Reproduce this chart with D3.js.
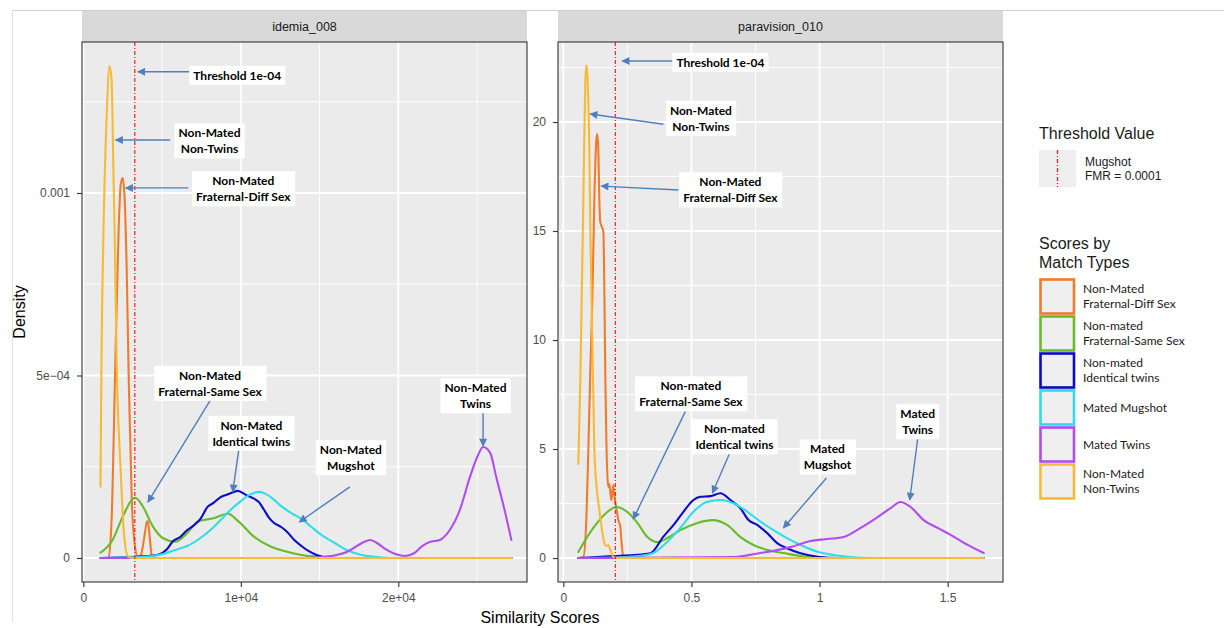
<!DOCTYPE html>
<html><head><meta charset="utf-8">
<script src="https://cdn.jsdelivr.net/npm/d3@7"></script>
<style>body{margin:0;background:#fff;} svg{display:block;}</style>
</head><body>
<svg id="chart" width="1224" height="628"></svg>
<script>
// ---------------- DATA ----------------
const panelTitles = ["idemia_008", "paravision_010"];
const seriesNames = [
  ["Non-Mated", "Fraternal-Diff Sex"],
  ["Non-mated", "Fraternal-Same Sex"],
  ["Non-mated", "Identical twins"],
  ["Mated Mugshot"],
  ["Mated Twins"],
  ["Non-Mated", "Non-Twins"]
];

// idemia_008 density curves: [score, density]
const idemiaFraternalDiffSex = [[1090,0],[1600,0],[1795,0.000104],[2051,0.00057],[2244,0.000899],[2372,0.001022],[2500,0.001041],[2628,0.000981],[2756,0.000789],[2885,0.000488],[3077,0.000159],[3269,0.0000356],[3461,0.0000027],[3654,0.0000082],[3846,0.0000493],[4038,0.0000986],[4102,0.000101],[4231,0.0000493],[4359,0.0000027],[4615,0],[27180,0]];
const idemiaFraternalSameSex = [[1090,0.0000145],[1859,0.0000493],[2500,0.000113],[3141,0.000162],[3300,0.000165],[3782,0.000141],[4423,0.0000858],[5064,0.000054],[5833,0.0000447],[6602,0.0000685],[7243,0.0000995],[8269,0.000109],[9166,0.000121],[9871,0.0000995],[10833,0.0000584],[11923,0.000031],[12756,0.0000192],[13846,0.0000082],[15128,0.0000027],[16410,0],[27180,0]];
const idemiaIdenticalTwins = [[1090,0],[2949,0.0000027],[4679,0.0000082],[5320,0.0000247],[5705,0.0000466],[6154,0.0000575],[6602,0.0000767],[7051,0.0000904],[7436,0.000107],[7884,0.00014],[8269,0.000151],[8718,0.000167],[9230,0.000175],[9807,0.000184],[10320,0.000173],[10769,0.000164],[11153,0.000153],[11474,0.000132],[11794,0.00011],[12115,0.0000959],[12564,0.0000849],[12948,0.0000712],[13397,0.0000493],[13846,0.0000329],[14294,0.0000192],[14807,0.0000082],[15256,0.0000027],[15769,0],[27180,0]];
const idemiaMatedMugshot = [[1090,0],[3590,0.0000027],[5064,0.000011],[5833,0.0000219],[6602,0.0000329],[7436,0.0000548],[8077,0.0000767],[8718,0.000104],[9359,0.000132],[10000,0.000156],[10641,0.000175],[11153,0.000181],[11602,0.000175],[12051,0.000162],[12564,0.000142],[13205,0.000123],[13846,0.000107],[14487,0.0000849],[15128,0.000063],[15961,0.0000411],[16730,0.0000219],[17692,0.0000082],[18653,0.0000027],[19615,0],[27180,0]];
const idemiaMatedTwins = [[1090,0],[13846,0],[15128,0.0000027],[16089,0.0000082],[16730,0.0000164],[17371,0.0000329],[17820,0.0000438],[18204,0.0000493],[18653,0.0000411],[19166,0.0000247],[19807,0.000011],[20448,0.0000055],[21025,0.0000137],[21538,0.0000329],[21986,0.0000438],[22627,0.0000493],[23268,0.0000767],[23909,0.000132],[24550,0.000222],[25063,0.000282],[25384,0.000304],[25832,0.000288],[26217,0.000222],[26794,0.000123],[27180,0.0000493]];
const idemiaNonTwins = [[1090,0.000195],[1154,0.000542],[1282,0.000899],[1474,0.0012],[1667,0.001348],[1795,0.00131],[1923,0.001036],[1987,0.000899],[2115,0.000542],[2372,0.000241],[2564,0.0000767],[2820,0.0000055],[3077,0],[27180,0]];

// paravision_010 density curves: [score, density]
const paraFraternalDiffSex = [[0.0586,0],[0.0781,0.05],[0.0898,1.74],[0.0977,4.95],[0.1055,8.62],[0.1133,11.83],[0.1211,16.42],[0.1289,19.17],[0.1328,19.45],[0.1367,18.72],[0.1406,16.42],[0.1445,15.41],[0.1523,15.14],[0.1563,14.95],[0.1602,12.29],[0.1641,8.17],[0.168,5.41],[0.1719,3.81],[0.1758,3.26],[0.1797,3.39],[0.1836,3.03],[0.1875,2.66],[0.1914,3.03],[0.1953,3.35],[0.1992,2.89],[0.207,2.29],[0.2148,1.74],[0.2227,1.42],[0.2266,0.83],[0.2344,0.05],[0.2461,0],[1.6406,0]];
const paraFraternalSameSex = [[0.0586,0.28],[0.1172,1.38],[0.1719,2.11],[0.2070,2.34],[0.25,2.11],[0.2891,1.61],[0.3281,0.96],[0.3672,0.73],[0.4063,0.92],[0.457,1.28],[0.5234,1.61],[0.582,1.74],[0.6406,1.51],[0.6914,0.96],[0.7422,0.6],[0.7969,0.37],[0.8594,0.23],[0.9258,0.09],[1.0039,0],[1.6406,0]];
const paraIdenticalTwins = [[0.0586,0],[0.1953,0.09],[0.2734,0.14],[0.3398,0.22],[0.3906,0.98],[0.4297,1.51],[0.4688,2.12],[0.5078,2.66],[0.5352,2.81],[0.5742,2.84],[0.6133,2.97],[0.6523,2.66],[0.6914,2.28],[0.7227,1.74],[0.7578,1.51],[0.7969,1.13],[0.8359,0.67],[0.875,0.44],[0.9258,0.22],[0.9922,0.06],[1.082,0],[1.6406,0]];
const paraMatedMugshot = [[0.0586,0],[0.2,0.02],[0.3008,0.1],[0.3516,0.23],[0.4063,0.75],[0.457,1.38],[0.5078,2.12],[0.5625,2.58],[0.6133,2.66],[0.6641,2.51],[0.7188,2.12],[0.7695,1.67],[0.8203,1.28],[0.875,0.9],[0.9258,0.6],[0.9922,0.29],[1.0547,0.14],[1.1211,0.05],[1.2,0],[1.6406,0]];
const paraMatedTwins = [[0.0586,0],[0.6641,0.05],[0.7695,0.23],[0.8867,0.5],[0.9648,0.78],[1.0313,0.87],[1.0938,0.96],[1.1602,1.38],[1.2266,1.88],[1.2773,2.29],[1.3164,2.57],[1.3555,2.34],[1.4063,1.74],[1.4609,1.38],[1.5117,1.06],[1.5781,0.6],[1.6406,0.23]];
const paraNonTwins = [[0.0586,4.31],[0.0664,8.17],[0.0781,16.4],[0.0859,21.9],[0.0898,22.6],[0.0938,22.2],[0.1016,18.7],[0.1055,15.0],[0.1133,10.0],[0.1211,5.0],[0.1289,3.4],[0.1406,2.2],[0.1523,1.19],[0.1602,0.69],[0.168,0.55],[0.1758,0.6],[0.1836,0.37],[0.1953,0.05],[0.207,0],[1.6406,0]];

// thresholds (FMR = 0.0001)
const thresholds = [3270, 0.203];

// axis ticks
const idemiaXTicks = [0, 10000, 20000];
const idemiaXLabels = ["0", "1e+04", "2e+04"];
const idemiaXMinor = [5000, 15000, 25000];
const idemiaYTicks = [0, 0.0005, 0.001];
const idemiaYLabels = ["0", "5e\u221204", "0.001"];
const idemiaYMinor = [0.00025, 0.00075, 0.00125];
const paraXTicks = [0, 0.5, 1, 1.5];
const paraXLabels = ["0", "0.5", "1", "1.5"];
const paraXMinor = [0.25, 0.75, 1.25];
const paraYTicks = [0, 5, 10, 15, 20];
const paraYLabels = ["0", "5", "10", "15", "20"];
const paraYMinor = [2.5, 7.5, 12.5, 17.5, 22.5];

// annotations: label lines, box centre, arrow start, arrow tip (data coords)
const idemiaNotes = [
  {lines:["Threshold 1e-04"], c:[9775,0.001322], from:[6730,0.001332], to:[3460,0.001332]},
  {lines:["Non-Mated","Non-Twins"], c:[8013,0.001142], from:[5513,0.001145], to:[2051,0.001145]},
  {lines:["Non-Mated","Fraternal-Diff Sex"], c:[10160,0.001011], from:[6666,0.001014], to:[2692,0.001014]},
  {lines:["Non-Mated","Fraternal-Same Sex"], c:[8045,0.000478], from:[8077,0.000433], to:[4102,0.000153]},
  {lines:["Non-Mated","Identical twins"], c:[10673,0.000341], from:[9871,0.000296], to:[9487,0.000181]},
  {lines:["Non-Mated","Mugshot"], c:[16987,0.000274], from:[16922,0.000195], to:[13717,0.0000986]},
  {lines:["Non-Mated","Twins"], c:[24903,0.000444], from:[25384,0.0004], to:[25384,0.000307]}
];
const paraNotes = [
  {lines:["Threshold 1e-04"], c:[0.613,22.73], from:[0.426,22.8], to:[0.230,22.8]},
  {lines:["Non-Mated","Non-Twins"], c:[0.537,20.16], from:[0.391,19.9], to:[0.105,20.37]},
  {lines:["Non-Mated","Fraternal-Diff Sex"], c:[0.652,16.88], from:[0.449,16.88], to:[0.148,17.06]},
  {lines:["Non-mated","Fraternal-Same Sex"], c:[0.498,7.52], from:[0.477,6.74], to:[0.273,1.79]},
  {lines:["Non-mated","Identical twins"], c:[0.668,5.55], from:[0.648,4.77], to:[0.582,2.98]},
  {lines:["Mated","Mugshot"], c:[1.031,4.63], from:[1.027,3.67], to:[0.859,1.38]},
  {lines:["Mated","Twins"], c:[1.383,6.24], from:[1.383,5.46], to:[1.352,2.66]}
];

// ---------------- STYLE ----------------
const colors = ["#F07B2C", "#67BC28", "#0B0BCB", "#2EDDE9", "#B14CEE", "#F8BA34"];
const thresholdColor = "#E8202A";
const arrowColor = "#4F7FBF";
const annoFont = "Lato, 'Open Sans', sans-serif";
const mainFont = "'Liberation Sans', Arial, sans-serif";

const svg = d3.select("#chart");

// page frame
svg.append("line").attr("x1",12).attr("x2",1224).attr("y1",10.5).attr("y2",10.5).attr("stroke","#cfcfcf");
svg.append("line").attr("x1",12.5).attr("x2",12.5).attr("y1",10).attr("y2",622).attr("stroke","#e2e2e2");

const defs = svg.append("defs");
defs.append("marker").attr("id","ah").attr("viewBox","0 0 10 10").attr("refX",9).attr("refY",5)
  .attr("markerWidth",10).attr("markerHeight",8).attr("markerUnits","userSpaceOnUse").attr("orient","auto")
  .append("path").attr("d","M0,0L10,5L0,10z").attr("fill",arrowColor);

const panelDefs = [
  {title: panelTitles[0], x0:82, x1:527, xDom:[-83, 28171], yDom:[-0.0000658, 0.0014137],
   series:[idemiaFraternalDiffSex, idemiaFraternalSameSex, idemiaIdenticalTwins, idemiaMatedMugshot, idemiaMatedTwins, idemiaNonTwins],
   thr: thresholds[0], xt: idemiaXTicks, xl: idemiaXLabels, xm: idemiaXMinor, yt: idemiaYTicks, yl: idemiaYLabels, ym: idemiaYMinor, notes: idemiaNotes},
  {title: panelTitles[1], x0:558, x1:1003, xDom:[-0.0207, 1.716], yDom:[-1.10, 23.67],
   series:[paraFraternalDiffSex, paraFraternalSameSex, paraIdenticalTwins, paraMatedMugshot, paraMatedTwins, paraNonTwins],
   thr: thresholds[1], xt: paraXTicks, xl: paraXLabels, xm: paraXMinor, yt: paraYTicks, yl: paraYLabels, ym: paraYMinor, notes: paraNotes}
];
const pTop = 42, pBottom = 582;

panelDefs.forEach((p, pi) => {
  const x = d3.scaleLinear().domain(p.xDom).range([p.x0, p.x1]);
  const y = d3.scaleLinear().domain(p.yDom).range([pBottom, pTop]);
  const g = svg.append("g");
  // strip
  g.append("rect").attr("x",p.x0).attr("y",11).attr("width",p.x1-p.x0).attr("height",pTop-11).attr("fill","#D9D9D9");
  g.append("text").attr("x",(p.x0+p.x1)/2).attr("y",31).attr("text-anchor","middle")
    .attr("font-family",mainFont).attr("font-size",12.5).attr("fill","#1A1A1A").text(p.title);
  // panel bg
  g.append("rect").attr("x",p.x0).attr("y",pTop).attr("width",p.x1-p.x0).attr("height",pBottom-pTop).attr("fill","#EBEBEB");
  // grid
  g.selectAll(".vmin").data(p.xm).join("line").attr("x1",d=>x(d)).attr("x2",d=>x(d)).attr("y1",pTop).attr("y2",pBottom).attr("stroke","#fff").attr("stroke-width",0.9);
  g.selectAll(".hmin").data(p.ym).join("line").attr("y1",d=>y(d)).attr("y2",d=>y(d)).attr("x1",p.x0).attr("x2",p.x1).attr("stroke","#fff").attr("stroke-width",0.9);
  g.selectAll(".vmaj").data(p.xt).join("line").attr("x1",d=>x(d)).attr("x2",d=>x(d)).attr("y1",pTop).attr("y2",pBottom).attr("stroke","#fff").attr("stroke-width",1.8);
  g.selectAll(".hmaj").data(p.yt).join("line").attr("y1",d=>y(d)).attr("y2",d=>y(d)).attr("x1",p.x0).attr("x2",p.x1).attr("stroke","#fff").attr("stroke-width",1.8);

  // clip
  const cid = "clip"+pi;
  defs.append("clipPath").attr("id",cid).append("rect").attr("x",p.x0).attr("y",pTop).attr("width",p.x1-p.x0).attr("height",pBottom-pTop);
  const plot = g.append("g").attr("clip-path",`url(#${cid})`);
  const line = d3.line().x(d=>x(d[0])).y(d=>y(d[1])).curve(d3.curveMonotoneX);
  p.series.forEach((s, si) => {
    plot.append("path").attr("d", line(s)).attr("fill","none").attr("stroke",colors[si])
      .attr("stroke-width",2.1).attr("stroke-linejoin","round").attr("stroke-linecap","round");
  });
  // threshold
  plot.append("line").attr("x1",x(p.thr)).attr("x2",x(p.thr)).attr("y1",pTop).attr("y2",pBottom)
    .attr("stroke",thresholdColor).attr("stroke-width",1.2).attr("stroke-dasharray","4,2,1,2");

  // border
  g.append("rect").attr("x",p.x0).attr("y",pTop).attr("width",p.x1-p.x0).attr("height",pBottom-pTop)
    .attr("fill","none").attr("stroke","#333").attr("stroke-width",1.1);

  // axes
  const ax = g.append("g").attr("transform",`translate(0,${pBottom})`)
    .call(d3.axisBottom(x).tickValues(p.xt).tickFormat((d,i)=>p.xl[i]).tickSize(5).tickPadding(6));
  const ay = g.append("g").attr("transform",`translate(${p.x0},0)`)
    .call(d3.axisLeft(y).tickValues(p.yt).tickFormat((d,i)=>p.yl[i]).tickSize(5).tickPadding(7));
  [ax, ay].forEach(a => {
    a.select(".domain").remove();
    a.selectAll(".tick line").attr("stroke","#333").attr("stroke-width",1.1);
    a.selectAll("text").style("fill","#4D4D4D").attr("font-size",12).attr("font-family",mainFont);
  });

  // annotations
  const ng = g.append("g");
  p.notes.forEach(n => {
    ng.append("line").attr("x1",x(n.from[0])).attr("y1",y(n.from[1])).attr("x2",x(n.to[0])).attr("y2",y(n.to[1]))
      .attr("stroke",arrowColor).attr("stroke-width",1.4).attr("marker-end","url(#ah)");
  });
  p.notes.forEach(n => {
    const cx = x(n.c[0]), cy = y(n.c[1]);
    const box = ng.append("rect").attr("fill","#fff");
    const t = ng.append("text").attr("font-family",annoFont).attr("font-weight","bold").attr("font-size",12)
      .attr("fill","#000").attr("text-anchor","middle");
    const lh = 16;
    n.lines.forEach((l, li) => {
      t.append("tspan").attr("x",cx).attr("y", cy + (li - (n.lines.length-1)/2)*lh + 4.3).text(l);
    });
    const bb = t.node().getBBox();
    box.attr("x",bb.x-4).attr("y",bb.y-2).attr("width",bb.width+8).attr("height",bb.height+4);
  });
});

// axis titles
svg.append("text").attr("transform","translate(25,312) rotate(-90)").attr("text-anchor","middle")
  .attr("font-family",mainFont).attr("font-size",16).attr("fill","#000").text("Density");
svg.append("text").attr("x",540).attr("y",623).attr("text-anchor","middle")
  .attr("font-family",mainFont).attr("font-size",16).attr("fill","#000").text("Similarity Scores");

// legend: threshold
const lg = svg.append("g");
lg.append("text").attr("x",1039).attr("y",139).attr("font-family",mainFont).attr("font-size",16).attr("fill","#1A1A1A").text("Threshold Value");
lg.append("rect").attr("x",1039).attr("y",150).attr("width",37).attr("height",37).attr("fill","#EEEEEE");
lg.append("line").attr("x1",1057.5).attr("x2",1057.5).attr("y1",150).attr("y2",187).attr("stroke",thresholdColor).attr("stroke-width",1.3).attr("stroke-dasharray","4,2,1,2");
lg.append("text").attr("x",1085).attr("y",166).attr("font-family",mainFont).attr("font-size",12).attr("fill","#1A1A1A").text("Mugshot");
lg.append("text").attr("x",1085).attr("y",180).attr("font-family",mainFont).attr("font-size",12).attr("fill","#1A1A1A").text("FMR = 0.0001");

// legend: series
lg.append("text").attr("x",1039).attr("y",249).attr("font-family",mainFont).attr("font-size",16).attr("fill","#1A1A1A").text("Scores by");
lg.append("text").attr("x",1039).attr("y",268).attr("font-family",mainFont).attr("font-size",16).attr("fill","#1A1A1A").text("Match Types");
const keyY = d3.scaleBand().domain(d3.range(seriesNames.length)).range([278, 500]);
seriesNames.forEach((nm, i) => {
  const y0 = keyY(i);
  lg.append("rect").attr("x",1040.5).attr("y",y0+1.5).attr("width",33.5).attr("height",keyY.bandwidth()-3)
    .attr("fill","#EFEFEF").attr("stroke",colors[i]).attr("stroke-width",2.6);
  const cy = y0 + keyY.bandwidth()/2;
  nm.forEach((l, li) => {
    lg.append("text").attr("x",1083).attr("y", cy + (li - (nm.length-1)/2)*15.5 + 4.2)
      .attr("font-family",annoFont).attr("font-size",12).attr("fill","#1A1A1A").text(l);
  });
});
</script>
</body></html>
